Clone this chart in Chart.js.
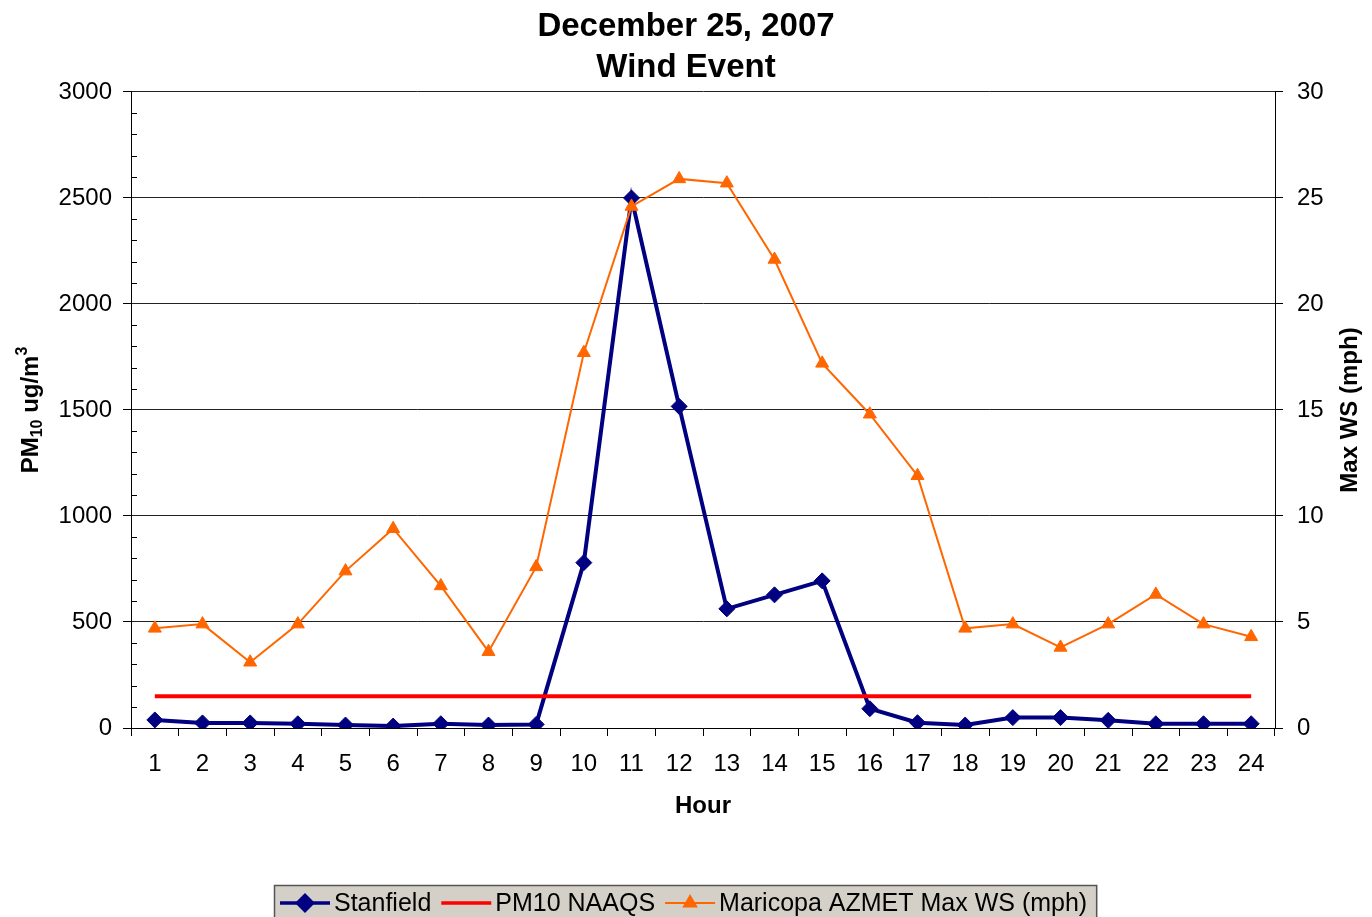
<!DOCTYPE html>
<html>
<head>
<meta charset="utf-8">
<title>December 25, 2007 Wind Event</title>
<script src="https://cdn.jsdelivr.net/npm/chart.js@4.4.1/dist/chart.umd.min.js"></script>
<style>
  html, body { margin: 0; padding: 0; background: #fff; }
  #wrap { width: 1372px; height: 917px; }
</style>
</head>
<body>
<div id="wrap"><canvas id="windChart"></canvas></div>
<script>
const hours = ['1', '2', '3', '4', '5', '6', '7', '8', '9', '10', '11', '12',
               '13', '14', '15', '16', '17', '18', '19', '20', '21', '22', '23', '24'];
// PM10 ug/m3 at Stanfield
const stanfield = [38, 24, 24, 20, 14, 9, 20, 14, 17, 780, 2500, 1517,
                   562, 628, 694, 91, 25, 14, 49, 49, 36, 20, 20, 20];
// 24-hr PM10 standard
const naaqs = [150, 150, 150, 150, 150, 150, 150, 150, 150, 150, 150, 150,
               150, 150, 150, 150, 150, 150, 150, 150, 150, 150, 150, 150];
// max wind speed, mph (right axis)
const maxWind = [4.7, 4.9, 3.1, 4.9, 7.4, 9.4, 6.7, 3.6, 7.6, 17.7, 24.6, 25.9,
                 25.7, 22.1, 17.2, 14.8, 11.9, 4.7, 4.9, 3.8, 4.9, 6.3, 4.9, 4.3];

const FONT = '"Liberation Sans", Arial, sans-serif';
const pmMajor = 500;

// little inward ticks on the left axis every 100
const minorTicks = {
  id: 'minorTicks',
  beforeDatasetsDraw(chart) {
    const s = chart.scales.y;
    const ctx = chart.ctx;
    ctx.save();
    ctx.strokeStyle = '#000';
    ctx.lineWidth = 1;
    s.ticks.forEach(t => {
      if (t.value % pmMajor === 0) return;
      const y = Math.round(s.getPixelForValue(t.value)) + 0.5;
      ctx.beginPath();
      ctx.moveTo(s.right, y);
      ctx.lineTo(s.right + 6, y);
      ctx.stroke();
    });
    ctx.restore();
  }
};

// rotated axis titles (both read bottom to top, left one has sub/superscript)
const axisTitles = {
  id: 'axisTitles',
  afterDraw(chart) {
    const ctx = chart.ctx;
    const area = chart.chartArea;
    const mid = (area.top + area.bottom) / 2;
    ctx.save();
    ctx.fillStyle = '#000';
    ctx.textBaseline = 'alphabetic';
    ctx.textAlign = 'left';

    const parts = [
      { t: 'PM', size: 24, dy: 0 },
      { t: '10', size: 16, dy: 4 },
      { t: ' ug/m', size: 24, dy: 0 },
      { t: '3', size: 16, dy: -11 }
    ];
    let total = 0;
    parts.forEach(p => {
      ctx.font = 'bold ' + p.size + 'px ' + FONT;
      p.w = ctx.measureText(p.t).width;
      total += p.w;
    });
    ctx.save();
    ctx.translate(38, mid);
    ctx.rotate(-Math.PI / 2);
    let x = -total / 2;
    parts.forEach(p => {
      ctx.font = 'bold ' + p.size + 'px ' + FONT;
      ctx.fillText(p.t, x, p.dy);
      x += p.w;
    });
    ctx.restore();

    ctx.save();
    ctx.translate(1357, mid);
    ctx.rotate(-Math.PI / 2);
    ctx.textAlign = 'center';
    ctx.font = 'bold 24px ' + FONT;
    ctx.fillText('Max WS (mph)', 0, 0);
    ctx.restore();
    ctx.restore();
  }
};

// grey boxed legend along the bottom edge
const boxLegend = {
  id: 'boxLegend',
  afterDraw(chart) {
    const ctx = chart.ctx;
    const items = [0, 1, 2].map(i => chart.data.datasets[i]);
    const symW = 50, gap = 4, itemGap = 10, padL = 6, padR = 10;
    ctx.save();
    ctx.font = '25px ' + FONT;
    let total = padL + padR + itemGap * (items.length - 1);
    items.forEach(d => { d._lw = ctx.measureText(d.label).width; total += symW + gap + d._lw; });
    const left = Math.round((chart.width - total) / 2);
    const top = 885;
    ctx.fillStyle = '#d4d0c8';
    ctx.fillRect(left, top, total, 40);
    ctx.strokeStyle = '#555';
    ctx.lineWidth = 1.5;
    ctx.strokeRect(left + 0.5, top + 0.5, total - 1, 40);

    const cy = 903;
    let x = left + padL;
    items.forEach(d => {
      ctx.strokeStyle = d.borderColor;
      ctx.lineWidth = d.label === 'Maricopa AZMET Max WS (mph)' ? 2 : 3.5;
      ctx.beginPath();
      ctx.moveTo(x, cy);
      ctx.lineTo(x + symW, cy);
      ctx.stroke();
      if (d.pointRadius > 0) {
        Chart.helpers.drawPoint(ctx, {
          pointStyle: d.pointStyle, radius: d.pointRadius - 0.5, borderWidth: 1
        }, x + symW / 2, cy);
        ctx.fillStyle = d.pointBackgroundColor;
        ctx.strokeStyle = d.pointBorderColor;
        ctx.fill();
      }
      ctx.fillStyle = '#000';
      ctx.textAlign = 'left';
      ctx.textBaseline = 'middle';
      ctx.fillText(d.label, x + symW + gap, cy + 1);
      x += symW + gap + d._lw + itemGap;
    });
    ctx.restore();
  }
};

const tickFont = { family: FONT, size: 24 };

new Chart(document.getElementById('windChart'), {
  type: 'line',
  data: {
    labels: hours,
    datasets: [{
      label: 'Stanfield',
      data: stanfield,
      yAxisID: 'y',
      borderColor: '#000080',
      backgroundColor: '#000080',
      borderWidth: 4,
      pointStyle: 'rectRot',
      pointRadius: 8,
      pointBackgroundColor: '#000080',
      pointBorderColor: '#000080',
      pointBorderWidth: 1,
      tension: 0,
      order: 2
    }, {
      label: 'PM10 NAAQS',
      data: naaqs,
      yAxisID: 'y',
      borderColor: '#ff0000',
      backgroundColor: '#ff0000',
      borderWidth: 4,
      pointRadius: 0,
      tension: 0,
      order: 1
    }, {
      label: 'Maricopa AZMET Max WS (mph)',
      data: maxWind,
      yAxisID: 'y1',
      borderColor: '#ff6600',
      backgroundColor: '#ff6600',
      borderWidth: 2,
      pointStyle: 'triangle',
      pointRadius: 7.5,
      pointBackgroundColor: '#ff6600',
      pointBorderColor: '#ff6600',
      pointBorderWidth: 1,
      tension: 0,
      order: 0
    }]
  },
  options: {
    responsive: true,
    maintainAspectRatio: false,
    animation: false,
    layout: { padding: { left: 0, right: 0, top: 0, bottom: 94 } },
    plugins: {
      legend: { display: false },
      tooltip: { enabled: false },
      title: {
        display: true,
        text: ['December 25, 2007', 'Wind Event'],
        color: '#000',
        font: { family: FONT, size: 33, weight: 'bold', lineHeight: 1.242 },
        padding: { top: 6, bottom: 4 }
      }
    },
    scales: {
      x: {
        offset: true,
        grid: {
          offset: true,
          drawOnChartArea: false,
          tickLength: 8,
          tickColor: '#000'
        },
        border: { color: '#000', width: 1 },
        ticks: { color: '#000', font: tickFont, padding: 14, maxRotation: 0, autoSkip: false },
        title: {
          display: true,
          text: 'Hour',
          color: '#000',
          font: { family: FONT, size: 24, weight: 'bold' },
          padding: { top: 0, bottom: 2 }
        },
        afterFit: s => { s.height = 95; }
      },
      y: {
        position: 'left',
        min: 0,
        max: 3000,
        ticks: {
          stepSize: 100,
          autoSkip: false,
          color: '#000',
          font: tickFont,
          padding: 11,
          callback: v => (v % pmMajor === 0 ? v : '')
        },
        grid: {
          color: c => (c.tick && c.tick.value % pmMajor === 0 ? '#222' : 'rgba(0,0,0,0)'),
          tickColor: c => (c.tick && c.tick.value % pmMajor === 0 ? '#000' : 'rgba(0,0,0,0)'),
          tickLength: 8,
          lineWidth: 1
        },
        border: { color: '#000', width: 1 },
        afterFit: s => { s.width = 131; }
      },
      y1: {
        position: 'right',
        min: 0,
        max: 30,
        ticks: { stepSize: 5, color: '#000', font: tickFont, padding: 14 },
        grid: { drawOnChartArea: false, tickLength: 8, tickColor: '#000' },
        border: { color: '#000', width: 1 },
        afterFit: s => { s.width = 97; }
      }
    }
  },
  plugins: [minorTicks, axisTitles, boxLegend]
});
</script>
</body>
</html>
